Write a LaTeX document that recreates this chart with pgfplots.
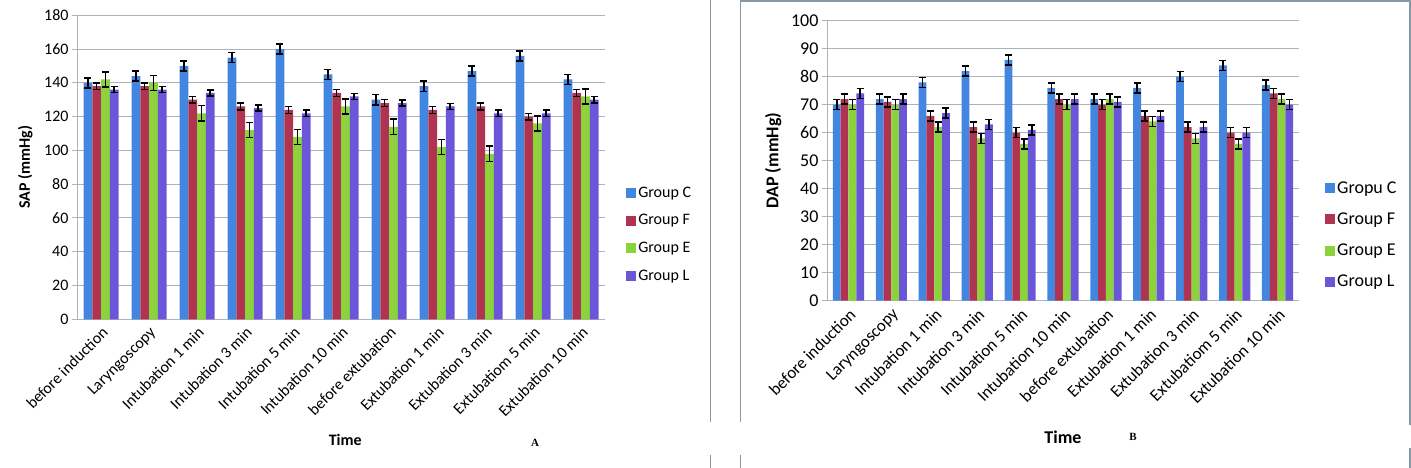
\documentclass[border=0pt]{standalone}
\usepackage{fontspec}
\setmainfont{Carlito}
\newfontfamily\serifA{Liberation Serif}
\usepackage{pgfplots}
\usepackage{pgfplotstable}
\pgfplotsset{compat=1.18}

\definecolor{gC}{RGB}{66,134,224}
\definecolor{gF}{RGB}{176,52,82}
\definecolor{gE}{RGB}{140,210,60}
\definecolor{gL}{RGB}{106,86,216}
\definecolor{gridc}{RGB}{170,180,186}
\definecolor{framec}{RGB}{135,152,160}

\pgfplotstableread{
x C Ce F Fe E Ee L Le
0 140 3 138 2 142 4.5 136 1.8
1 144 3 138 2 140 4.5 136 1.8
2 150 3 130 2 122 4.5 134 1.8
3 155 3 126 2 112 4.5 125 1.8
4 160 3 124 2 108 4.5 122 1.8
5 145 3 134 2 126 4.5 132 1.8
6 130 3 128 2 114 4.5 128 1.8
7 138 3 124 2 102 4.5 126 1.8
8 147 3 126 2 98 4.5 122 1.8
9 156 3 120 2 116 4.5 122 1.8
10 142 3 134 2 132 4.5 130 1.8
}\sap

\pgfplotstableread{
x C Ce F Fe E Ee L Le
0 70 1.8 72 1.8 70 1.8 74 1.8
1 72 1.8 71 1.8 70 1.8 72 1.8
2 78 1.8 66 1.8 62 1.8 67 1.8
3 82 1.8 62 1.8 58 1.8 63 1.8
4 86 1.8 60 1.8 56 1.8 61 1.8
5 76 1.8 72 1.8 70 1.8 72 1.8
6 72 1.8 70 1.8 72 1.8 71 1.8
7 76 1.8 66 1.8 64 1.8 66 1.8
8 80 1.8 62 1.8 58 1.8 62 1.8
9 84 1.8 60 1.8 56 1.8 60 1.8
10 77 1.8 74 1.8 72 1.8 70 1.8
}\dap

\pgfplotsset{
  base/.style={
    scale only axis,
    ybar=0pt,
    axis x line*=bottom, axis y line*=left,
    x axis line style={-}, y axis line style={-},
    axis line style={gridc, line width=1pt},
    ymajorgrids, major grid style={gridc, line width=1pt},
    xmin=-0.5, xmax=10.5, ymin=0,
    xtick={0,...,10},
    xticklabels={before induction,Laryngoscopy,Intubation 1 min,Intubation 3 min,Intubation 5 min,Intubation 10 min,before extubation,Extubation 1 min,Extubation 3 min,Extubatiom 5 min,Extubation 10 min},
    major x tick style={draw=none},
    extra x ticks={-0.5,0.5,1.5,2.5,3.5,4.5,5.5,6.5,7.5,8.5,9.5,10.5},
    extra x tick labels={},
    extra x tick style={grid=none, major tick length=6pt, tick align=outside, major tick style={draw=gridc, line width=1pt}},
    ytick style={draw=gridc, line width=1pt},
    major tick length=5pt, tick align=outside,
    /pgf/number format/assume math mode=true,
    legend cell align=left,
    legend image code/.code={\fill[##1, draw=none] (0pt,-5pt) rectangle (10pt,5pt);},
    error bars/y dir=both, error bars/y explicit,
    error bars/error bar style={black, line width=1.5pt},
    error bars/error mark options={rotate=90, black, mark size=3.5pt, line width=1.5pt},
  },
}

\begin{document}
\begin{tikzpicture}[x=1pt,y=1pt]
\path[use as bounding box] (0,0) rectangle (1411,468);

% frame decorations
\begin{scope}[framec, line width=1.5pt]
\draw (710.7,468) -- (710.7,46.3);
\draw (710.7,13) -- (710.7,0);
\draw (740.7,46.3) -- (740.7,467) -- (1410,467) -- (1410,43);
\draw (740.7,13) -- (740.7,0);
\draw (1410,20) -- (1410,0);
\end{scope}

% ---------- Left chart ----------
\begin{axis}[base,
  at={(77pt,148.7pt)}, anchor=south west,
  width=528pt, height=304pt,
  ymax=180, ytick distance=20,
  bar width=8.75pt,
  x tick label style={rotate=45, anchor=north east, font=\fontsize{16}{16}\selectfont, inner sep=1pt},
  y tick label style={font=\fontsize{16}{16}\selectfont},
  ylabel={\bfseries SAP (mmHg)},
  ylabel style={at={(axis description cs:-0.098,0.5)}, anchor=center, font=\fontsize{16}{16}\selectfont},
  xlabel={\bfseries Time},
  xlabel style={at={(axis description cs:0.508,-0.397)}, anchor=center, font=\fontsize{16}{16}\selectfont},
  legend style={at={(axis description cs:1.04,0.279)}, anchor=west, draw=none, fill=none,
    font=\fontsize{16}{16}\selectfont, row sep=12pt, inner sep=0pt},
]
\addplot[fill=gC, draw=none] table[x=x, y=C, y error=Ce] {\sap};
\addplot[fill=gF, draw=none] table[x=x, y=F, y error=Fe] {\sap};
\addplot[fill=gE, draw=none] table[x=x, y=E, y error=Ee] {\sap};
\addplot[fill=gL, draw=none] table[x=x, y=L, y error=Le] {\sap};
\legend{Group C, Group F, Group E, Group L}
\end{axis}
\node[font=\serifA\bfseries\fontsize{11}{11}\selectfont] at (535,25) {A};

% ---------- Right chart ----------
\begin{axis}[base,
  at={(827pt,167.3pt)}, anchor=south west,
  width=472pt, height=280pt,
  ymax=100, ytick distance=10,
  bar width=7.8pt,
  x tick label style={rotate=45, anchor=north east, font=\fontsize{17}{17}\selectfont, inner sep=1pt},
  y tick label style={font=\fontsize{18}{18}\selectfont},
  ylabel={\bfseries DAP (mmHg)},
  ylabel style={at={(axis description cs:-0.114,0.5)}, anchor=center, font=\fontsize{18}{18}\selectfont},
  xlabel={\bfseries Time},
  xlabel style={at={(axis description cs:0.5,-0.487)}, anchor=center, font=\fontsize{18}{18}\selectfont},
  legend style={at={(axis description cs:1.055,0.2346)}, anchor=west, draw=none, fill=none,
    font=\fontsize{18}{18}\selectfont, row sep=14pt, inner sep=0pt},
]
\addplot[fill=gC, draw=none] table[x=x, y=C, y error=Ce] {\dap};
\addplot[fill=gF, draw=none] table[x=x, y=F, y error=Fe] {\dap};
\addplot[fill=gE, draw=none] table[x=x, y=E, y error=Ee] {\dap};
\addplot[fill=gL, draw=none] table[x=x, y=L, y error=Le] {\dap};
\legend{Gropu C, Group F, Group E, Group L}
\end{axis}
\node[font=\serifA\bfseries\fontsize{11}{11}\selectfont] at (1133,31) {B};
\end{tikzpicture}
\end{document}
